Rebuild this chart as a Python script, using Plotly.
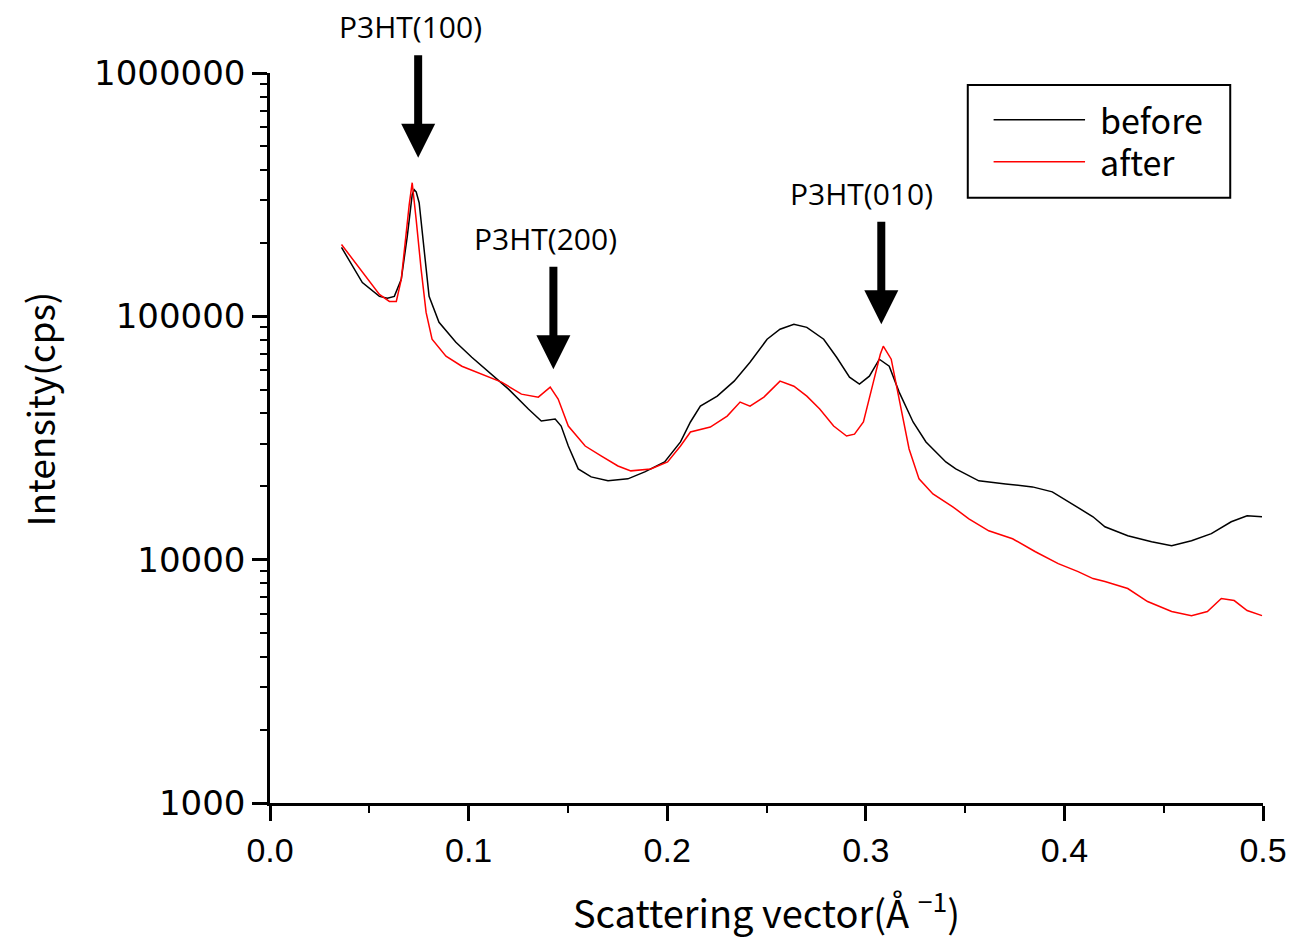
import plotly.graph_objects as go

# scattering vector (1/Å) and intensity (cps)
q_before = [0.036, 0.0465, 0.0551, 0.0591, 0.0626, 0.0661, 0.0691, 0.0706, 0.0716, 0.0726,
            0.0736, 0.0751, 0.0776,
            0.0801, 0.0851, 0.0936, 0.1016, 0.1101, 0.1201, 0.1301, 0.1366, 0.1436, 0.1466,
            0.1502, 0.1552, 0.1617, 0.1702, 0.1802, 0.1887, 0.1987, 0.2067, 0.2117, 0.2167,
            0.2252, 0.2337, 0.2417, 0.2503, 0.2568, 0.2638, 0.2703, 0.2788, 0.2853, 0.2918,
            0.2968, 0.3018, 0.3068, 0.3118, 0.3168, 0.3238, 0.3303, 0.3403, 0.3453, 0.3569,
            0.3704, 0.3839, 0.3939, 0.4039, 0.4144, 0.4204, 0.4319, 0.4439, 0.4540, 0.4640,
            0.4740, 0.4840, 0.4920, 0.4995]
i_before = [192000, 137700, 120800, 118600, 120800, 141900, 212800, 274800, 316200, 331600,
            325000, 293100, 182800,
            120800, 94500, 78200, 67900, 58960, 50200, 41580, 37150, 37840, 35400,
            29310, 23600, 21880, 21090, 21480, 22950, 25220, 30470, 36800, 42760,
            46990, 54170, 64760, 80500, 88500, 92700, 90100, 80500, 67900, 56230,
            52630, 56760, 66640, 62370, 48830, 36800, 30470, 25220, 23600, 21090,
            20480, 19910, 19000, 16980, 15010, 13650, 12540, 11850, 11410, 11960,
            12790, 14310, 15150, 15010]

q_after = [0.036, 0.0465, 0.0551, 0.0601, 0.0636, 0.0661, 0.0686, 0.0701, 0.0716, 0.0726,
           0.0736, 0.0761,
           0.0786, 0.0816, 0.0886, 0.0966, 0.1066, 0.1166, 0.1266, 0.1351, 0.1411, 0.1451,
           0.1502, 0.1587, 0.1667, 0.1752, 0.1817, 0.1917, 0.2002, 0.2067, 0.2117, 0.2217,
           0.2302, 0.2367, 0.2417, 0.2487, 0.2568, 0.2638, 0.2703, 0.2768, 0.2838, 0.2903,
           0.2943, 0.2988, 0.3038, 0.3053, 0.3073, 0.3088, 0.3128, 0.3168, 0.3218, 0.3268,
           0.3338, 0.3438,
           0.3519, 0.3619, 0.3739, 0.3854, 0.3969, 0.4069, 0.4144, 0.4204, 0.4319, 0.4419,
           0.4540, 0.4640, 0.4720, 0.4790, 0.4855, 0.4920, 0.4995]
i_after = [197300, 151400, 123000, 115200, 115200, 141900, 227300, 287700, 354100, 301700,
           249800, 155900,
           103800, 80500, 68550, 62370, 57820, 53650, 47880, 46560, 51170, 45700,
           35400, 29310, 26690, 24270, 23170, 23600, 25220, 29310, 33470, 35090,
           38910, 44440, 42760, 46560, 54170, 51640, 46990, 41580, 35400, 32210,
           32810, 36800, 53650, 59600, 69800, 75380, 66640, 45700, 28510, 21480,
           18630, 16490,
           14720, 13140, 12190, 10780, 9630, 8930, 8360, 8130, 7610, 6730,
           6120, 5890, 6120, 6920, 6790, 6180, 5890]

y_ticks = [1000, 10000, 100000, 1000000]
y_ticktext = ["1000", "10000", "100000", "1000000"]

# peak labels: text, q of the arrow, log10 intensity at the arrow tip
peak_labels = ["P3HT(100)", "P3HT(200)", "P3HT(010)"]
peak_q = [0.0746, 0.1427, 0.3078]
peak_tip = [5.652, 4.783, 4.967]
label_xshift = [-8, -8, -20]

series = [("before", "black"), ("after", "red")]

fig = go.Figure()
fig.add_trace(go.Scatter(x=q_before, y=i_before, mode="lines", name="before",
                         line=dict(color="black", width=1.5), showlegend=False))
fig.add_trace(go.Scatter(x=q_after, y=i_after, mode="lines", name="after",
                         line=dict(color="red", width=1.5), showlegend=False))

for label, q, tip, dx in zip(peak_labels, peak_q, peak_tip, label_xshift):
    fig.add_annotation(x=q, y=tip, xref="x", yref="y", text="", showarrow=True,
                       ax=0, ay=-104, arrowhead=2, arrowsize=0.85, arrowwidth=8,
                       arrowcolor="black")
    fig.add_annotation(x=q, y=tip, xref="x", yref="y", text=label, showarrow=False,
                       yshift=131, xshift=dx,
                       font=dict(family="Open Sans", size=30, color="black"))

# legend box drawn by hand (wide sample lines, padded frame)
fig.add_shape(type="rect", xref="paper", yref="paper", x0=0.7027, x1=0.967,
              y0=0.829, y1=0.9836, line=dict(color="black", width=2),
              fillcolor="white", layer="above")
for (name, color), yy in zip(series, [0.9358, 0.8784]):
    fig.add_shape(type="line", xref="paper", yref="paper", x0=0.7287, x1=0.8208,
                  y0=yy, y1=yy, line=dict(color=color, width=1.5), layer="above")
    fig.add_annotation(x=0.8338, y=yy, xref="paper", yref="paper", text=name,
                       showarrow=False, xanchor="left", yanchor="middle",
                       font=dict(family="Noto Sans CJK JP", size=34, color="black"))

# y axis title placed by hand (sits above the axis centre in the original)
fig.add_annotation(x=-0.233, y=0.54, xref="paper", yref="paper", text="Intensity(cps)",
                   textangle=-90, showarrow=False, xanchor="center", yanchor="middle",
                   font=dict(family="Noto Sans CJK JP", size=37, color="black"))

fig.update_layout(
    width=1291, height=933,
    margin=dict(l=262, r=30, t=65, b=136),
    plot_bgcolor="white", paper_bgcolor="white",
    font=dict(family="Liberation Sans", color="black"),
    showlegend=False,
)

fig.update_xaxes(
    range=[0, 0.5], dtick=0.1, tickformat=".1f",
    showline=True, linecolor="black", linewidth=2.5,
    ticks="outside", ticklen=15, tickwidth=2.5, tickcolor="black",
    minor=dict(dtick=0.05, ticks="outside", ticklen=7, tickwidth=2, tickcolor="black"),
    showgrid=False, zeroline=False,
    tickfont=dict(family="Liberation Sans", size=34),
    title=dict(text="Scattering vector(Å <sup>−1</sup>)",
               font=dict(family="Noto Sans CJK JP", size=38), standoff=34),
)
fig.update_yaxes(
    type="log", range=[3, 6],
    tickvals=y_ticks, ticktext=y_ticktext,
    showline=True, linecolor="black", linewidth=2.5,
    ticks="outside", ticklen=15, tickwidth=2.5, tickcolor="black",
    minor=dict(dtick="D1", ticks="outside", ticklen=7, tickwidth=2, tickcolor="black",
               showgrid=False),
    showgrid=False, zeroline=False,
    tickfont=dict(family="DejaVu Sans", size=34),
)

fig.write_html("out.html")
